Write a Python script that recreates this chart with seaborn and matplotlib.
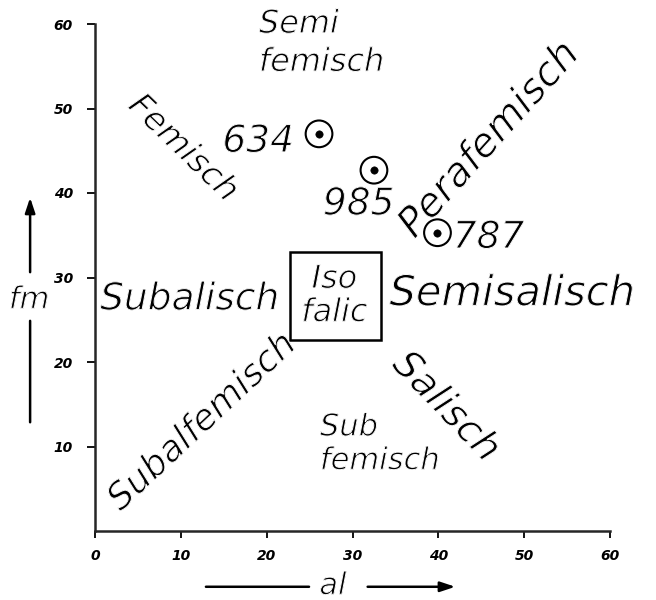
import matplotlib
matplotlib.use("Agg")
import matplotlib.pyplot as plt
import matplotlib.patheffects as pe
import seaborn as sns
import pandas as pd
from matplotlib.patches import Rectangle

# Niggli values of the three analysed samples
sample_ids = ["634", "985", "787"]
al_values = [26.1, 32.5, 39.9]
fm_values = [47.0, 42.7, 35.3]

# Isofalic field (al and fm limits)
iso_al_range = [22.7, 33.3]
iso_fm_range = [22.6, 33.0]

x_ticks = [0, 10, 20, 30, 40, 50, 60]
y_ticks = [10, 20, 30, 40, 50, 60]

field_names = ["Semi\nfemisch", "Femisch", "Perafemisch", "Subalisch",
               "Semisalisch", "Subalfemisch", "Salisch", "Sub\nfemisch",
               "Iso\nfalic"]

sns.set_style("ticks")
plt.rcParams["font.family"] = ["DejaVu Sans"]

df = pd.DataFrame({"al": al_values, "fm": fm_values, "id": sample_ids})

fig = plt.figure(figsize=(6.56, 6.0), dpi=100)
ax = fig.add_axes([95 / 656, 69 / 600, 515 / 656, 507 / 600])

# sample symbols: open circle with a central dot
sns.scatterplot(data=df, x="al", y="fm", ax=ax, marker="o", s=370,
                facecolor="none", edgecolor="black", linewidth=1.5,
                legend=False, zorder=3, clip_on=False)
sns.scatterplot(data=df, x="al", y="fm", ax=ax, marker="o", s=28,
                color="black", edgecolor="black", legend=False, zorder=4)

ax.set_xlim(0, 60)
ax.set_ylim(0, 60)
ax.set_xticks(x_ticks)
ax.set_yticks(y_ticks)
ax.set_xticklabels([str(t) for t in x_ticks])
ax.set_yticklabels([str(t) for t in y_ticks])
ax.set_xlabel("")
ax.set_ylabel("")
sns.despine(ax=ax)
for side in ("left", "bottom"):
    ax.spines[side].set_linewidth(1.8)
ax.tick_params(axis="both", direction="out", width=1.3, color="black",
               labelsize=10, labelcolor="black")
ax.tick_params(axis="y", length=6, pad=10)
ax.tick_params(axis="x", length=5, pad=8)
for lab in ax.get_xticklabels() + ax.get_yticklabels():
    lab.set_fontstyle("italic")
    lab.set_fontweight("bold")

# isofalic box
ax.add_patch(Rectangle((iso_al_range[0], iso_fm_range[0]),
                       iso_al_range[1] - iso_al_range[0],
                       iso_fm_range[1] - iso_fm_range[0],
                       fill=False, edgecolor="black", linewidth=1.8, zorder=2))

# pen-like lettering: a fine white outline trims the glyph edges
thin = [pe.Normal(), pe.Stroke(linewidth=0.7, foreground="white")]
txt = dict(color="black", style="italic", clip_on=False, path_effects=thin)

ax.text(19.1, 57.7, field_names[0], fontsize=23, ha="left", va="center",
        multialignment="left", linespacing=1.3, **txt)
ax.text(10.3, 45.3, field_names[1], fontsize=24, ha="center", va="center",
        rotation=-44, rotation_mode="anchor", **txt)
ax.text(45.9, 46.3, field_names[2], fontsize=29, ha="center", va="center",
        rotation=48, rotation_mode="anchor", **txt)
ax.text(0.6, 26.2, field_names[3], fontsize=27, ha="left", va="baseline", **txt)
ax.text(34.3, 26.7, field_names[4], fontsize=30, ha="left", va="baseline", **txt)
ax.text(12.5, 12.9, field_names[5], fontsize=26, ha="center", va="center",
        rotation=43, rotation_mode="anchor", **txt)
ax.text(40.9, 14.7, field_names[6], fontsize=28, ha="center", va="center",
        rotation=-46, rotation_mode="anchor", **txt)
ax.text(26.2, 10.3, field_names[7], fontsize=22, ha="left", va="center",
        multialignment="left", linespacing=1.2, **txt)
ax.text(27.9, 27.8, field_names[8], fontsize=23, ha="center", va="center",
        multialignment="center", linespacing=1.1, **txt)

# sample numbers next to their symbols
offsets = [(-18, -13, "right"), (-11, -32, "center"), (11, -11, "left")]
for sid, a, f, (dx, dy, ha) in zip(sample_ids, al_values, fm_values, offsets):
    ax.annotate(sid, (a, f), xytext=(dx, dy), textcoords="offset points",
                fontsize=27, ha=ha, va="baseline", color="black",
                style="italic", path_effects=thin)

# axis captions with arrows
arrow = dict(arrowstyle="-|>,head_length=0.9,head_width=0.3", lw=1.8, color="black")
plain = dict(arrowstyle="-", lw=1.8, color="black")
ax.annotate("", xy=(-0.126, 0.663), xytext=(-0.126, 0.505),
            xycoords="axes fraction", arrowprops=arrow, annotation_clip=False)
ax.annotate("", xy=(-0.126, 0.209), xytext=(-0.126, 0.42),
            xycoords="axes fraction", arrowprops=plain, annotation_clip=False)
ax.text(-0.128, 0.456, "fm", transform=ax.transAxes, fontsize=22,
        ha="center", va="center", **txt)
ax.annotate("", xy=(0.21, -0.110), xytext=(0.421, -0.110),
            xycoords="axes fraction", arrowprops=plain, annotation_clip=False)
ax.annotate("", xy=(0.705, -0.110), xytext=(0.524, -0.110),
            xycoords="axes fraction", arrowprops=arrow, annotation_clip=False)
ax.text(0.462, -0.108, "al", transform=ax.transAxes, fontsize=22,
        ha="center", va="center", **txt)

fig.savefig("out.png", dpi=100, facecolor="white")
